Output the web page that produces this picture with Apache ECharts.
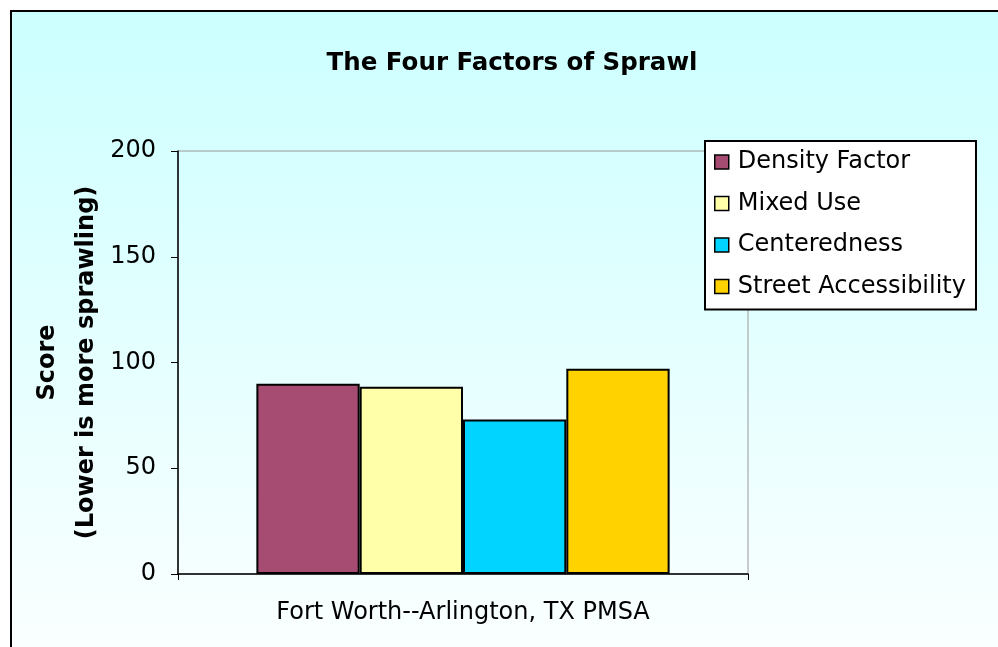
<!DOCTYPE html>
<html><head><meta charset="utf-8">
<script src="https://cdn.jsdelivr.net/npm/echarts@6/dist/echarts.min.js"></script>
<style>html,body{margin:0;padding:0;background:#fff;}#c{width:998px;height:647px;}</style>
</head><body><div id="c"></div>
<script>
var categories = ['Fort Worth--Arlington, TX PMSA'];
var seriesNames = ['Density Factor', 'Mixed Use', 'Centeredness', 'Street Accessibility'];
var densityFactor = [90];
var mixedUse = [88.5];
var centeredness = [73];
var streetAccessibility = [97];
var yTicks = [0, 50, 100, 150, 200];
var colors = ['#a64b72', '#ffffaa', '#00d4ff', '#ffd200'];

var values = [densityFactor, mixedUse, centeredness, streetAccessibility];
var chart = echarts.init(document.getElementById('c'), null, {renderer: 'canvas'});
var font = '"DejaVu Sans", "Liberation Sans", Arial, sans-serif';
chart.setOption({
  animation: false,
  backgroundColor: '#ffffff',
  textStyle: {fontFamily: font},
  graphic: [{
    type: 'rect', z: -10, silent: true,
    shape: {x: 11, y: 11, width: 1000, height: 700},
    style: {
      fill: new echarts.graphic.LinearGradient(0, 0, 0, 1, [
        {offset: 0, color: '#ccffff'}, {offset: 1, color: '#ffffff'}
      ]),
      stroke: '#000', lineWidth: 2
    }
  }],
  title: {
    text: 'The Four Factors of Sprawl',
    left: 507, top: 46, textAlign: 'center',
    textStyle: {fontFamily: font, fontWeight: 'bold', fontSize: 24.5, color: '#000'}
  },
  legend: {
    orient: 'vertical', left: 705, top: 141,
    backgroundColor: '#ffffff', borderColor: '#000', borderWidth: 2, borderRadius: 0,
    padding: [9, 10, 11, 9],
    itemWidth: 14, itemHeight: 14, itemGap: 17.5,
    icon: 'rect',
    itemStyle: {borderColor: '#000', borderWidth: 1.5},
    textStyle: {fontFamily: font, fontSize: 24, color: '#000', lineHeight: 24, padding: [0, 0, 0, 4]},
    data: seriesNames
  },
  grid: {left: 178, right: 250, top: 151, bottom: 73, show: true, borderColor: '#999', borderWidth: 1, backgroundColor: 'transparent'},
  xAxis: {
    type: 'category', data: categories,
    axisLine: {lineStyle: {color: '#000', width: 1.5}},
    axisTick: {show: true, length: 6, lineStyle: {color: '#000'}},
    axisLabel: {fontFamily: font, fontSize: 24, color: '#000', margin: 27}
  },
  yAxis: {
    type: 'value', min: yTicks[0], max: yTicks[yTicks.length - 1], interval: 50,
    name: 'Score\n(Lower is more sprawling)', nameLocation: 'middle', nameGap: 72, nameRotate: 90,
    nameMoveOverlap: false,
    nameTextStyle: {fontFamily: font, fontWeight: 'bold', fontSize: 24, color: '#000', lineHeight: 39},
    axisLine: {show: true, lineStyle: {color: '#000', width: 1.5}},
    axisTick: {show: true, length: 7, lineStyle: {color: '#000'}},
    axisLabel: {fontFamily: font, fontSize: 24, color: '#000', margin: 22},
    splitLine: {show: false}
  },
  series: seriesNames.map(function (n, i) {
    return {
      name: n, type: 'bar', data: values[i],
      barGap: '0%', barCategoryGap: '27.5%',
      itemStyle: {color: colors[i], borderColor: '#000', borderWidth: 2}
    };
  })
});
</script></body></html>
